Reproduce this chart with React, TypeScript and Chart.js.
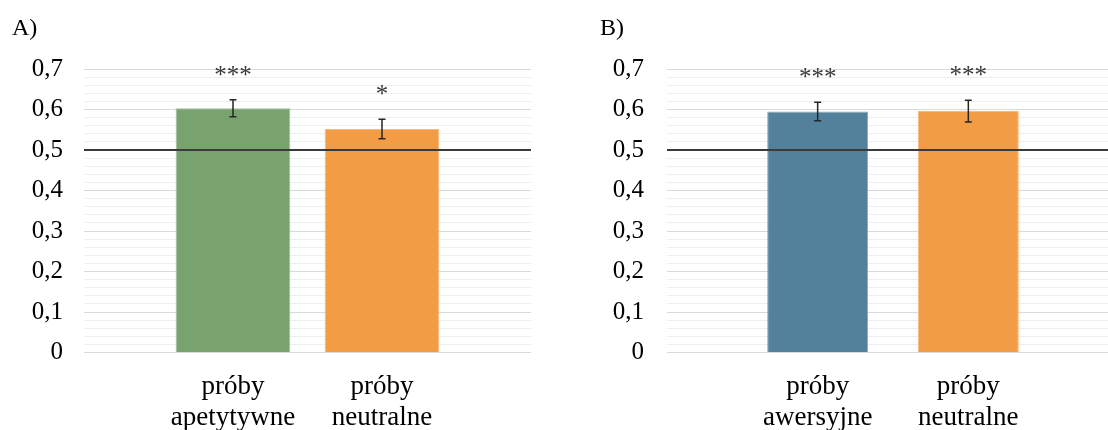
import React, { useEffect, useRef } from "react";
import { Chart, registerables } from "chart.js";

Chart.register(...registerables);

// ---- Data ----
const categoriesA: string[][] = [["próby", "apetytywne"], ["próby", "neutralne"]];
const valuesA: number[] = [0.603, 0.552];
const errorsA: number[] = [0.021, 0.024];
const starsA: string[] = ["***", "*"];
const colorsA: string[] = ["#78A36F", "#F29C46"];

const categoriesB: string[][] = [["próby", "awersyjne"], ["próby", "neutralne"]];
const valuesB: number[] = [0.595, 0.596];
const errorsB: number[] = [0.023, 0.027];
const starsB: string[] = ["***", "***"];
const colorsB: string[] = ["#53819C", "#F29C46"];

const yTicksMax = 0.7;
const yStep = 0.02;
const referenceValue = 0.5;

const FONT = "'Liberation Serif', 'Times New Roman', serif";

type PanelProps = {
  title: string;
  categories: string[][];
  values: number[];
  errors: number[];
  stars: string[];
  colors: string[];
  left: number;
  yAxisWidth: number;
  yPad: number;
  barPct: number;
};

function lighten(hex: string, amt: number): string {
  const n = parseInt(hex.slice(1), 16);
  const r = (n >> 16) & 255, g = (n >> 8) & 255, b = n & 255;
  const f = (c: number) => Math.round(c + (255 - c) * amt);
  return `rgb(${f(r)},${f(g)},${f(b)})`;
}

function Panel(p: PanelProps) {
  const ref = useRef<HTMLCanvasElement | null>(null);
  useEffect(() => {
    if (!ref.current) return;
    const overlay = {
      id: "overlay",
      afterDatasetsDraw(chart: any) {
        const ctx = chart.ctx;
        const y = chart.scales.y;
        const area = chart.chartArea;
        // reference line
        const ry = y.getPixelForValue(referenceValue);
        ctx.save();
        ctx.strokeStyle = "#3a3a3a";
        ctx.lineWidth = 2;
        ctx.beginPath();
        ctx.moveTo(area.left, ry);
        ctx.lineTo(area.right, ry);
        ctx.stroke();
        // error bars + stars
        const meta = chart.getDatasetMeta(0);
        meta.data.forEach((bar: any, i: number) => {
          const v = p.values[i];
          const e = p.errors[i];
          const yt = y.getPixelForValue(v + e);
          const yb = y.getPixelForValue(v - e);
          const x = bar.x;
          ctx.strokeStyle = "#262626";
          ctx.lineWidth = 1.5;
          ctx.beginPath();
          ctx.moveTo(x, yt);
          ctx.lineTo(x, yb);
          ctx.moveTo(x - 3.5, yt);
          ctx.lineTo(x + 3.5, yt);
          ctx.moveTo(x - 3.5, yb);
          ctx.lineTo(x + 3.5, yb);
          ctx.stroke();
          ctx.fillStyle = "#3a3a3a";
          ctx.font = `25px ${FONT}`;
          ctx.textAlign = "center";
          ctx.textBaseline = "alphabetic";
          ctx.fillText(p.stars[i], x, yt - 17);
        });
        ctx.restore();
      },
    };
    const chart = new Chart(ref.current, {
      type: "bar",
      data: {
        datasets: [
          {
            data: p.categories.map((_, i) => ({ x: i + 1, y: p.values[i] })) as any,
            backgroundColor: p.colors,
            borderColor: p.colors.map((c) => lighten(c, 0.3)),
            borderWidth: 1,
            categoryPercentage: 1,
            barPercentage: p.barPct,
          },
        ],
      },
      options: {
        responsive: false,
        animation: false,
        devicePixelRatio: 1,
        layout: { padding: { left: 12, right: 0, top: 0, bottom: 0 } },
        plugins: {
          legend: { display: false },
          tooltip: { enabled: false },
          title: {
            display: true,
            text: p.title,
            align: "start",
            color: "#000",
            font: { family: FONT, size: 24, weight: "normal" as any, lineHeight: 1.2 },
            padding: { top: 14.6, bottom: 25.6 },
          },
        },
        scales: {
          x: {
            type: "linear",
            min: 0,
            max: p.categories.length + 1,
            offset: false,
            grid: { display: false, drawTicks: false },
            border: { display: false },
            afterBuildTicks: (scale: any) => {
              scale.ticks = p.categories.map((_, i) => ({ value: i + 1 }));
            },
            afterFit: (scale: any) => {
              scale.height = 77.5;
            },
            ticks: {
              autoSkip: false,
              maxRotation: 0,
              padding: 19,
              color: "#000",
              font: { family: FONT, size: 27, lineHeight: 1.15 },
              callback: (v: any) => p.categories[Math.round(v) - 1] ?? "",
            },
          },
          y: {
            type: "linear",
            min: 0,
            max: yTicksMax,
            grid: {
              drawTicks: false,
              color: (c: any) =>
                Math.round(c.tick.value * 100) % 10 === 0 ? "#d9d9d9" : "#eeeeee",
              lineWidth: 1,
            },
            border: { display: false },
            afterFit: (scale: any) => {
              scale.width = p.yAxisWidth;
            },
            ticks: {
              stepSize: yStep,
              autoSkip: false,
              padding: p.yPad,
              color: "#000",
              font: { family: FONT, size: 25 },
              callback: (v: any) => {
                const r = Math.round(v * 100);
                if (r % 10 !== 0) return "";
                if (r === 0) return "0";
                return (r / 100).toFixed(1).replace(".", ",");
              },
            },
          },
        },
      },
      plugins: [overlay],
    } as any);
    return () => chart.destroy();
  }, []);
  return (
    <div style={{ position: "absolute", left: p.left, top: 0 }}>
      <canvas ref={ref} width={531} height={430} style={{ display: "block" }} />
    </div>
  );
}

export default function App() {
  return (
    <div
      style={{
        position: "fixed",
        left: 0,
        top: 0,
        width: 1108,
        height: 430,
        overflow: "hidden",
        background: "#fff",
      }}
    >
      <Panel
        title="A)"
        categories={categoriesA}
        values={valuesA}
        errors={errorsA}
        stars={starsA}
        colors={colorsA}
        left={0}
        yAxisWidth={72}
        yPad={21}
        barPct={0.77}
      />
      <Panel
        title="B)"
        categories={categoriesB}
        values={valuesB}
        errors={errorsB}
        stars={starsB}
        colors={colorsB}
        left={588}
        yAxisWidth={67}
        yPad={23}
        barPct={0.67}
      />
    </div>
  );
}
